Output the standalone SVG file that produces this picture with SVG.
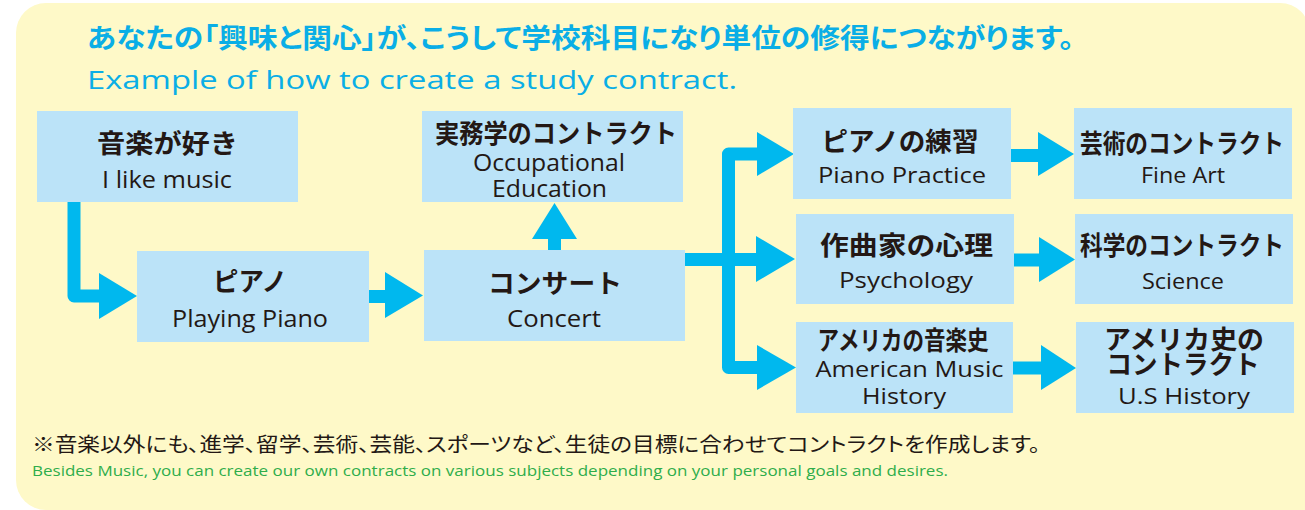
<svg xmlns="http://www.w3.org/2000/svg" width="1305" height="510" viewBox="0 0 1305 510">
<style>
.bg{fill:#FEF9C8}
.box{fill:#BBE3F8}
.ja{font-family:"Noto Sans CJK JP","Noto Sans CJK SC",sans-serif;font-weight:700;font-size:26px;fill:#231815;text-anchor:middle}
.en{font-family:"Open Sans","Liberation Sans",sans-serif;font-size:23px;fill:#231815;text-anchor:middle}
.en2{font-family:"Open Sans","Liberation Sans",sans-serif;font-size:21px;fill:#231815;text-anchor:middle}
.line{fill:none;stroke:#00B8EE;stroke-width:13;stroke-linejoin:round}
.head{fill:#00B8EE}
.title{font-family:"Noto Sans CJK JP",sans-serif;font-weight:700;font-size:27px;fill:#0AAEE6;font-feature-settings:"palt"}
.sub{font-family:"Open Sans","Liberation Sans",sans-serif;font-size:25px;fill:#0AAEE6}
.note{font-family:"Noto Sans CJK JP",sans-serif;font-size:20px;fill:#231815;font-feature-settings:"palt"}
.note2{font-family:"Open Sans","Liberation Sans",sans-serif;font-size:14px;fill:#2EAD4B}
</style>
<path class="bg" d="M46 3H1280A30 30 0 0 1 1310 33V510H46A30 30 0 0 1 16 480V33A30 30 0 0 1 46 3Z"/>
<text class="title" x="87" y="48" textLength="987" lengthAdjust="spacingAndGlyphs">あなたの「興味と関心」が、こうして学校科目になり単位の修得につながります。</text>
<text class="sub" x="87" y="89" textLength="650" lengthAdjust="spacingAndGlyphs">Example of how to create a study contract.</text>

<g id="connectors">
<path class="line" d="M74 202V296H102"/>
<polygon class="head" points="99,273 137,296 99,319"/>
<path class="line" d="M369 296.5H388"/>
<polygon class="head" points="385,272 423,295.5 385,318"/>
<path class="line" d="M554.5 250V236"/>
<polygon class="head" points="532,239 554.5,203 577,239"/>
<path class="line" d="M685 259.5H760"/>
<path class="line" d="M760 154H728.5V367.5H760"/>
<polygon class="head" points="757,132 794,154 757,176"/>
<polygon class="head" points="756,236 795,259 756,282"/>
<polygon class="head" points="757,345 796,367.5 757,390"/>
<path class="line" d="M1011 155.5H1041"/>
<polygon class="head" points="1038,132 1074,154 1038,176"/>
<path class="line" d="M1014 260H1042"/>
<polygon class="head" points="1039,237 1075,259.5 1039,282"/>
<path class="line" d="M1013 368H1044"/>
<polygon class="head" points="1041,345 1076,368 1041,390"/>
</g>

<g id="n1">
<rect class="box" x="37" y="111" width="261" height="91"/>
<text class="ja" x="167.5" y="153" textLength="141" lengthAdjust="spacingAndGlyphs">音楽が好き</text>
<text class="en" x="167" y="188" textLength="130" lengthAdjust="spacingAndGlyphs">I like music</text>
</g>
<g id="n2">
<rect class="box" x="137" y="251" width="232" height="91"/>
<text class="ja" x="250" y="291" textLength="74" lengthAdjust="spacingAndGlyphs">ピアノ</text>
<text class="en" x="250" y="327" textLength="156" lengthAdjust="spacingAndGlyphs">Playing Piano</text>
</g>
<g id="n3">
<rect class="box" x="422" y="111" width="261" height="91"/>
<text class="ja" x="556" y="143" font-size="25" textLength="242" lengthAdjust="spacingAndGlyphs">実務学のコントラクト</text>
<text class="en" x="549" y="171" font-size="22" textLength="152" lengthAdjust="spacingAndGlyphs">Occupational</text>
<text class="en" x="549.5" y="197" font-size="22" textLength="115" lengthAdjust="spacingAndGlyphs">Education</text>
</g>
<g id="n4">
<rect class="box" x="424" y="250" width="261" height="91"/>
<text class="ja" x="555" y="293" font-size="27" textLength="134" lengthAdjust="spacingAndGlyphs">コンサート</text>
<text class="en" x="554" y="327" textLength="94" lengthAdjust="spacingAndGlyphs">Concert</text>
</g>
<g id="n5">
<rect class="box" x="793" y="108" width="218" height="91"/>
<text class="ja" x="900" y="151" textLength="157" lengthAdjust="spacingAndGlyphs">ピアノの練習</text>
<text class="en2" x="902" y="183" textLength="168" lengthAdjust="spacingAndGlyphs">Piano Practice</text>
</g>
<g id="n6">
<rect class="box" x="1074" y="108" width="218" height="91"/>
<text class="ja" x="1182" y="153" font-size="25" textLength="204" lengthAdjust="spacingAndGlyphs">芸術のコントラクト</text>
<text class="en2" x="1183" y="183" textLength="84" lengthAdjust="spacingAndGlyphs">Fine Art</text>
</g>
<g id="n7">
<rect class="box" x="796" y="214" width="218" height="90"/>
<text class="ja" x="906.5" y="255" textLength="173" lengthAdjust="spacingAndGlyphs">作曲家の心理</text>
<text class="en2" x="906" y="288" textLength="134" lengthAdjust="spacingAndGlyphs">Psychology</text>
</g>
<g id="n8">
<rect class="box" x="1075" y="214" width="218" height="90"/>
<text class="ja" x="1182" y="255" font-size="25" textLength="204" lengthAdjust="spacingAndGlyphs">科学のコントラクト</text>
<text class="en2" x="1183" y="289" textLength="82" lengthAdjust="spacingAndGlyphs">Science</text>
</g>
<g id="n9">
<rect class="box" x="796" y="322" width="217" height="91"/>
<text class="ja" x="903" y="350" font-size="24" textLength="171" lengthAdjust="spacingAndGlyphs">アメリカの音楽史</text>
<text class="en2" x="909.5" y="377" textLength="188" lengthAdjust="spacingAndGlyphs">American Music</text>
<text class="en2" x="904" y="404" textLength="84" lengthAdjust="spacingAndGlyphs">History</text>
</g>
<g id="n10">
<rect class="box" x="1076" y="322" width="218" height="91"/>
<text class="ja" x="1184" y="349" font-size="25" textLength="160" lengthAdjust="spacingAndGlyphs">アメリカ史の</text>
<text class="ja" x="1183" y="374" font-size="25" textLength="153" lengthAdjust="spacingAndGlyphs">コントラクト</text>
<text class="en2" x="1184" y="404" textLength="132" lengthAdjust="spacingAndGlyphs">U.S History</text>
</g>

<text class="note" x="32" y="452" textLength="1008" lengthAdjust="spacingAndGlyphs">※音楽以外にも、進学、留学、芸術、芸能、スポーツなど、生徒の目標に合わせてコントラクトを作成します。</text>
<text class="note2" x="32" y="476" textLength="916" lengthAdjust="spacingAndGlyphs">Besides Music, you can create our own contracts on various subjects depending on your personal goals and desires.</text>
</svg>
